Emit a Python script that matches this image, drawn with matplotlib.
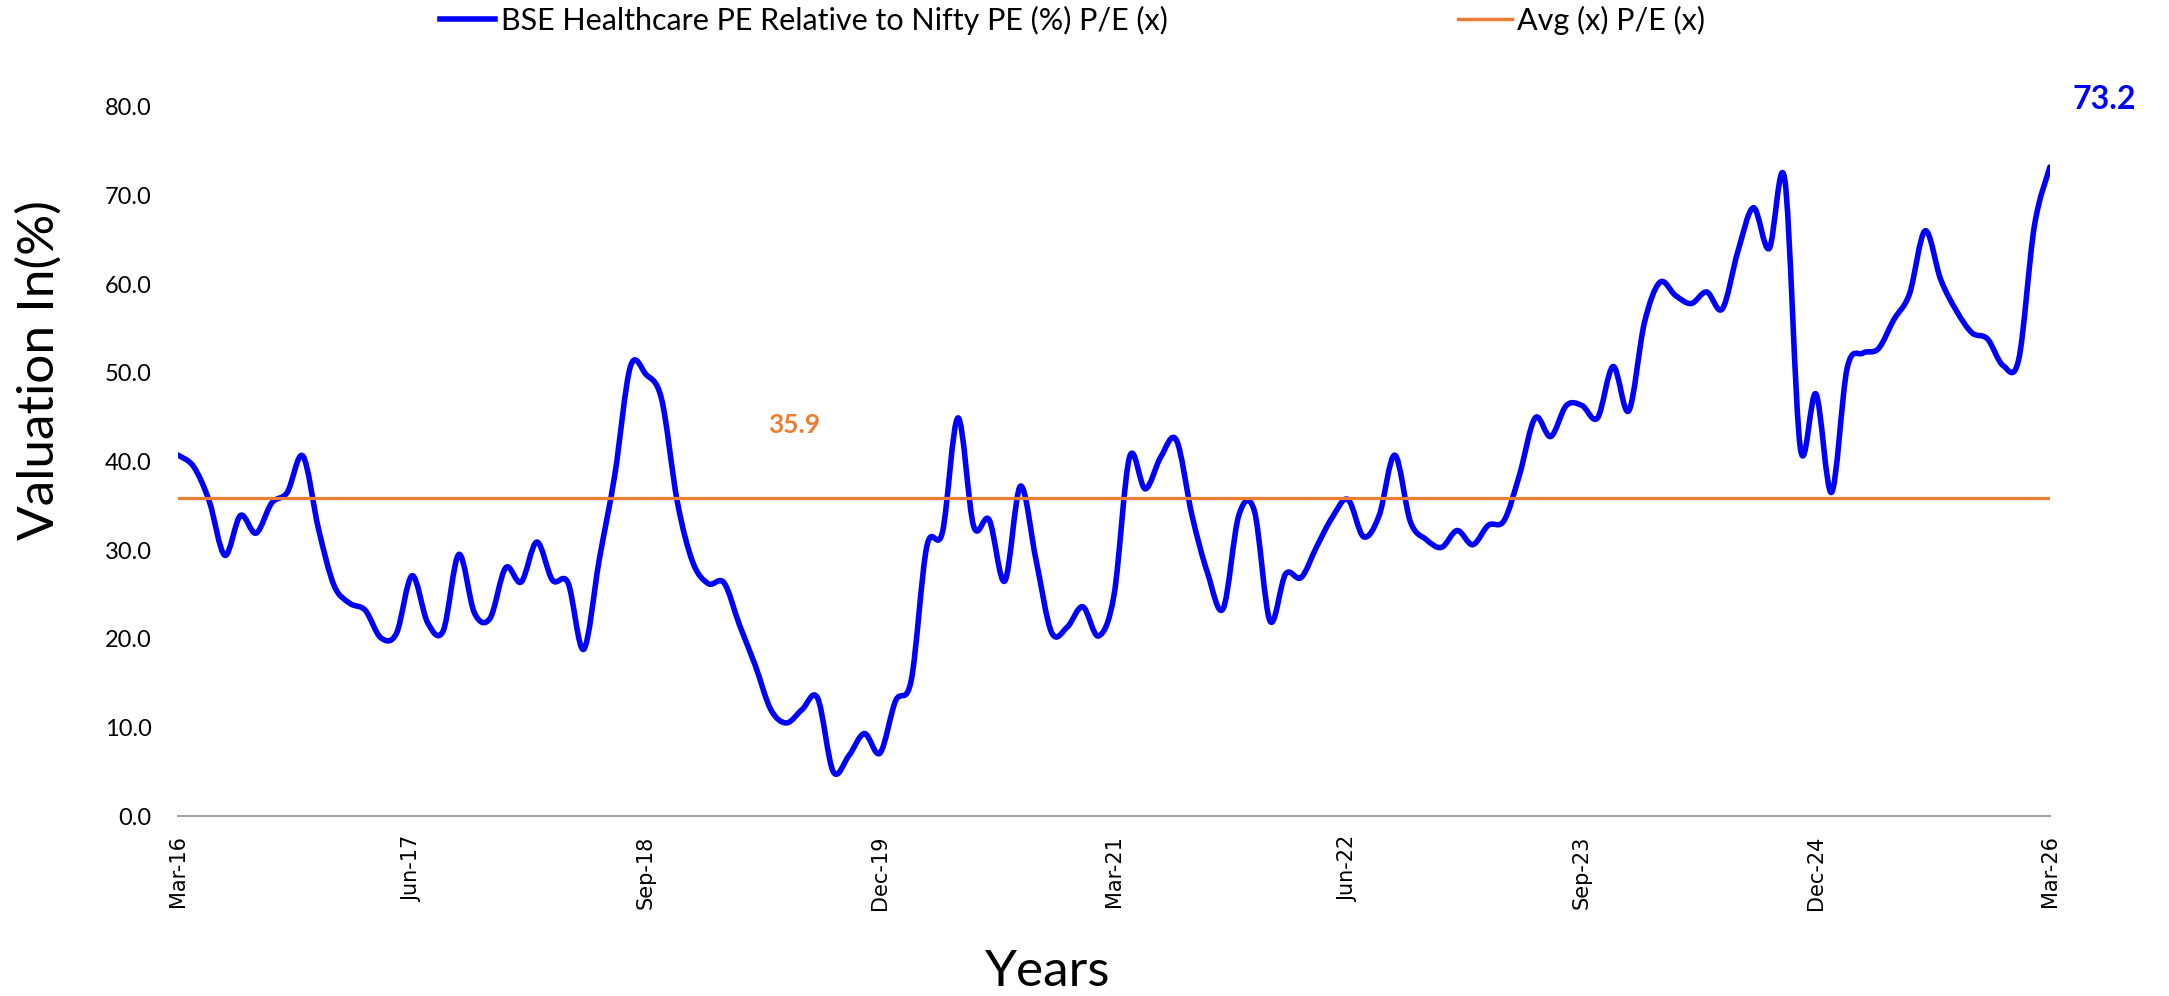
import numpy as np
import matplotlib
matplotlib.use("Agg")
import matplotlib.pyplot as plt
from matplotlib.path import Path
from matplotlib.patches import PathPatch
from matplotlib.lines import Line2D

# monthly values, Mar-16 .. Mar-26
pe_rel = [
    40.7, 39.4, 35.5, 29.4, 33.9, 31.9, 35.3, 36.5, 40.6, 32.4,
    26.0, 24.0, 23.2, 20.1, 20.6, 27.1, 21.8, 20.9, 29.5, 22.9,
    22.3, 28.0, 26.4, 30.9, 26.6, 26.3, 18.8, 28.9, 38.5, 50.7,
    49.8, 47.0, 35.5, 28.6, 26.2, 26.3, 21.5, 17.0, 12.0, 10.5,
    12.0, 13.3, 5.0, 6.8, 9.3, 7.1, 13.0, 15.3, 30.4, 32.0,
    44.9, 32.7, 33.4, 26.5, 37.2, 28.9, 20.7, 21.3, 23.6, 20.3,
    24.9, 40.5, 36.9, 40.5, 42.4, 33.9, 27.4, 23.4, 33.9, 34.4,
    22.0, 27.3, 26.9, 30.4, 33.7, 35.7, 31.5, 33.9, 40.7, 33.2,
    31.2, 30.3, 32.2, 30.6, 32.8, 33.3, 38.5, 44.9, 42.8, 46.3,
    46.3, 44.9, 50.7, 45.7, 55.6, 60.2, 58.7, 57.8, 59.1, 57.2,
    63.7, 68.6, 64.0, 71.8, 41.5, 47.6, 36.5, 50.5, 52.2, 52.7,
    56.0, 58.9, 66.0, 60.5, 57.0, 54.5, 53.8, 50.8, 51.5, 66.5,
    73.2]
months = np.arange(len(pe_rel))
avg_pe = 35.9
last_val = 73.2
tick_months = [0, 15, 30, 45, 60, 75, 90, 105, 120]
tick_labels = ['Mar-16', 'Jun-17', 'Sep-18', 'Dec-19', 'Mar-21',
               'Jun-22', 'Sep-23', 'Dec-24', 'Mar-26']
y_ticks = [0, 10, 20, 30, 40, 50, 60, 70, 80]

BLUE = '#0000FF'
ORANGE = '#ED7D31'


def smooth_path(x, y):
    # excel style smoothed line: cubic bezier through every point
    x = np.asarray(x, float)
    y = np.asarray(y, float)
    xp = np.r_[x[0], x, x[-1]]
    yp = np.r_[y[0], y, y[-1]]
    verts = [(x[0], y[0])]
    codes = [Path.MOVETO]
    for i in range(len(x) - 1):
        c1 = (xp[i+1] + (xp[i+2] - xp[i]) / 6, yp[i+1] + (yp[i+2] - yp[i]) / 6)
        c2 = (xp[i+2] - (xp[i+3] - xp[i+1]) / 6, yp[i+2] - (yp[i+3] - yp[i+1]) / 6)
        verts += [c1, c2, (xp[i+2], yp[i+2])]
        codes += [Path.CURVE4] * 3
    return Path(verts, codes)


fig = plt.figure(figsize=(21.69, 9.96), dpi=100)
ax = fig.add_axes([0.0821, 0.1807, 0.9451 - 0.0821, 0.8929 - 0.1807])

ax.add_patch(PathPatch(smooth_path(months, pe_rel), fill=False,
                       edgecolor=BLUE, lw=4.0, capstyle='round', joinstyle='round'))
ax.plot([months[0], months[-1]], [avg_pe, avg_pe], color=ORANGE, lw=2.3)

ax.set_xlim(0, 120)
ax.set_ylim(0, 80)

for s in ['top', 'right', 'left']:
    ax.spines[s].set_visible(False)
ax.spines['bottom'].set_color('#A6A6A6')
ax.spines['bottom'].set_linewidth(1.5)

ax.set_yticks(y_ticks)
ax.set_yticklabels([f'{v:.1f}' for v in y_ticks], family='Lato', fontsize=17)
ax.set_xticks(tick_months)
ax.set_xticklabels(tick_labels, rotation=90, family='DejaVu Sans', fontsize=15)
ax.tick_params(axis='y', length=0, pad=19)
ax.tick_params(axis='x', length=0, pad=14)

ax.text(39.5, 44.1, f'{avg_pe:.1f}', color=ORANGE, fontsize=19, fontweight='bold',
        family='Lato', ha='center', va='center')
ax.text(123.5, 80.8, f'{last_val:.1f}', color=BLUE, fontsize=23, fontweight='bold',
        family='Lato', ha='center', va='center', clip_on=False)

fig.text(39 / 2169, 1 - 370 / 996, 'Valuation In(%)', rotation=90, fontsize=37,
         family='Lato', ha='center', va='center')
fig.text(1048 / 2169, 1 - 972 / 996, 'Years', fontsize=37,
         family='Lato', ha='center', va='center')

fig.legend(handles=[Line2D([], [], color=BLUE, lw=4)],
           labels=['BSE Healthcare PE Relative to Nifty PE (%) P/E (x)'],
           loc='center left', bbox_to_anchor=(440 / 2169, 1 - 20 / 996),
           bbox_transform=fig.transFigure,
           frameon=False, borderpad=0, borderaxespad=0, handlelength=1.8,
           handletextpad=0.2, prop={'family': 'Lato', 'size': 22})
fig.legend(handles=[Line2D([], [], color=ORANGE, lw=2.5)],
           labels=['Avg (x) P/E (x)'],
           loc='center left', bbox_to_anchor=(1458 / 2169, 1 - 20 / 996),
           bbox_transform=fig.transFigure,
           frameon=False, borderpad=0, borderaxespad=0, handlelength=1.77,
           handletextpad=0.15, prop={'family': 'Lato', 'size': 22})

fig.savefig('out.png', dpi=100)
